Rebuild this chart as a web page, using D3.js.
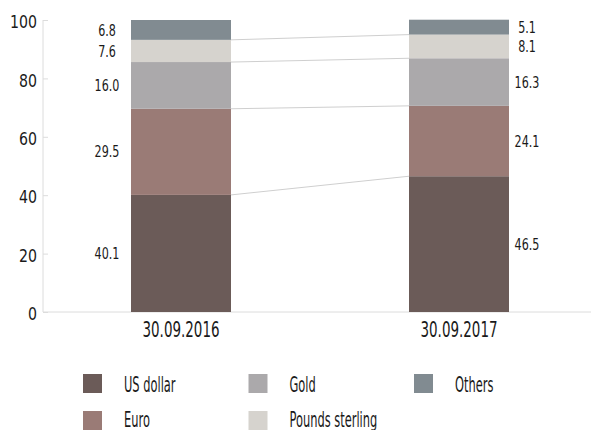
<!DOCTYPE html>
<html>
<head>
  <style>
    body { margin: 0; background: #fff; }
    svg text { font-family: "DejaVu Sans Condensed", "Liberation Sans Narrow", sans-serif; fill: #1a1a1a; }
  </style>
  <script src="https://d3js.org/d3.v7.min.js"></script>
</head>
<body>
  <svg width="591" height="430"></svg>
  <script>
    var dates = ["30.09.2016", "30.09.2017"];
    var currencies = ["US dollar", "Euro", "Gold", "Pounds sterling", "Others"];
    var usDollar = [40.1, 46.5];
    var euro = [29.5, 24.1];
    var gold = [16.0, 16.3];
    var pounds = [7.6, 8.1];
    var others = [6.8, 5.1];
    var yTicks = [0, 20, 40, 60, 80, 100];
    var colors = ["#6b5b58", "#9a7b76", "#aba9ab", "#d6d3ce", "#818b91"];

    var svg = d3.select("svg");
    var series = [usDollar, euro, gold, pounds, others];

    var rows = dates.map(function (d, i) {
      var r = { date: d };
      currencies.forEach(function (c, j) { r[c] = series[j][i]; });
      return r;
    });
    var stacked = d3.stack().keys(currencies)(rows);

    var x = d3.scalePoint().domain(dates).range([181, 459]);
    var y = d3.scaleLinear().domain([0, 100]).range([312, 20]);
    var barW = 100;
    var color = d3.scaleOrdinal().domain(currencies).range(colors);

    // narrow text: the original uses a condensed face, so squeeze horizontally
    function squeeze(sel, px, py, sx) {
      return sel.attr("transform", function (d, i) {
        return "translate(" + px(d, i) + "," + py(d, i) + ") scale(" + sx + ",1)";
      });
    }

    // y axis
    var yAxis = svg.append("g").attr("transform", "translate(43,0)")
      .call(d3.axisRight(y).tickValues(yTicks).tickSize(5).tickFormat(d3.format("d")));
    yAxis.select(".domain").attr("stroke", "#dcdcdc").attr("d", "M0,20V312");
    yAxis.selectAll(".tick line").attr("stroke", "#dcdcdc");
    yAxis.selectAll(".tick text")
      .attr("x", null).attr("dy", "0.42em")
      .attr("text-anchor", "end").attr("font-size", 18.5).attr("fill", "#1a1a1a")
      .attr("transform", "translate(-6,0) scale(0.85,1)");

    // baseline
    svg.append("line").attr("x1", 43).attr("x2", 591)
      .attr("y1", y(0)).attr("y2", y(0)).attr("stroke", "#dcdcdc");

    // connector lines between bars
    stacked.slice(0, -1).forEach(function (s) {
      svg.append("line")
        .attr("x1", x(dates[0]) + barW / 2).attr("y1", y(s[0][1]))
        .attr("x2", x(dates[1]) - barW / 2).attr("y2", y(s[1][1]))
        .attr("stroke", "#cfcfcf").attr("stroke-width", 1);
    });

    // bars
    var layer = svg.selectAll(".layer").data(stacked).enter().append("g")
      .attr("fill", function (d) { return color(d.key); });
    layer.selectAll("rect").data(function (d) { return d; }).enter().append("rect")
      .attr("x", function (d) { return x(d.data.date) - barW / 2; })
      .attr("width", barW)
      .attr("y", function (d) { return y(d[1]); })
      .attr("height", function (d) { return y(d[0]) - y(d[1]); });

    // value labels
    var vals = layer.selectAll("text").data(function (d) { return d; }).enter().append("text")
      .attr("dy", "0.36em")
      .attr("text-anchor", "middle")
      .attr("font-size", 15.5)
      .attr("fill", "#1a1a1a")
      .text(function (d) { return d3.format(".1f")(d[1] - d[0]); });
    squeeze(vals,
      function (d, i) { return i === 0 ? x(d.data.date) - 74 : x(d.data.date) + 68; },
      function (d) { return y((d[0] + d[1]) / 2); }, 0.8);

    // x labels
    var xl = svg.selectAll(".xlab").data(dates).enter().append("text")
      .attr("text-anchor", "middle").attr("font-size", 20.5)
      .text(function (d) { return d; });
    squeeze(xl, function (d) { return x(d); }, function () { return 337; }, 0.73);

    // legend
    var legend = svg.selectAll(".leg").data(currencies).enter().append("g")
      .attr("transform", function (d, i) {
        return "translate(" + (83 + Math.floor(i / 2) * 165.5) + "," + (374 + (i % 2) * 37) + ")";
      });
    legend.append("rect").attr("width", 19).attr("height", 19)
      .attr("fill", function (d) { return color(d); });
    legend.append("text").attr("font-size", 20.5)
      .attr("transform", function (d, i) { return "translate(41," + (i % 2 ? 16 : 18) + ") scale(0.62,1)"; })
      .text(function (d) { return d; });
  </script>
</body>
</html>
